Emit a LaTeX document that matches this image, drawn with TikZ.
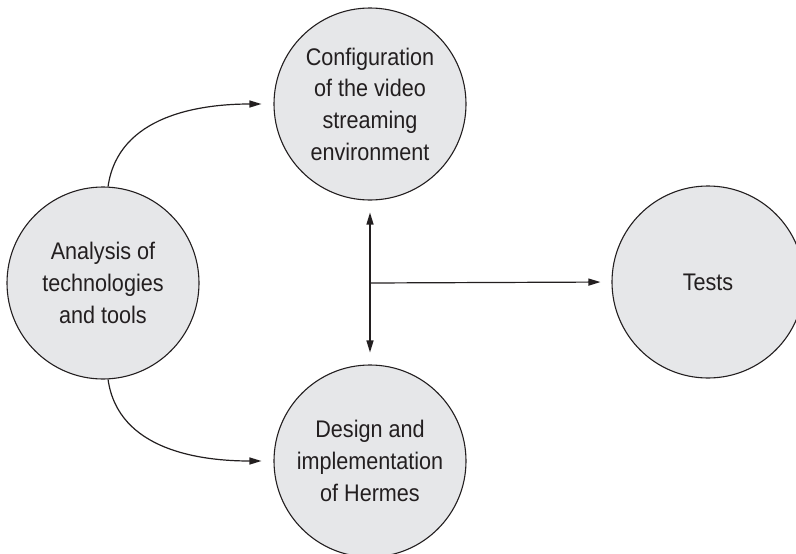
\documentclass[tikz,border=0pt]{standalone}
\usepackage{fontspec}
\setmainfont[FakeStretch=0.9]{Liberation Sans}
\usetikzlibrary{arrows.meta}
\definecolor{circfill}{RGB}{230,231,233}
\definecolor{inkc}{RGB}{35,31,32}
\tikzset{
  stage/.style={circle, draw=inkc, line width=1.1pt, fill=circfill, minimum size=192pt, inner sep=0pt, align=center, text=inkc, font=\fontsize{24}{31.7}\selectfont},
  flow/.style={draw=inkc, line width=1.2pt, -{Triangle[length=12pt,width=7pt]}},
  biflow/.style={draw=inkc, line width=1.2pt, {Triangle[length=12pt,width=7pt]}-{Triangle[length=12pt,width=7pt]}}
}
\begin{document}
\begin{tikzpicture}[x=1pt,y=-1pt]
\useasboundingbox (0,0) rectangle (796,554);
\node[stage] (A) at (103,283) {Analysis of\\technologies\\and tools};
\node[stage] (C) at (370,104) {Configuration\\of the video\\streaming\\environment};
\node[stage] (D) at (370,461) {Design and\\implementation\\of Hermes};
\node[stage] (T) at (708,282) {Tests};
\coordinate (J) at (370,283);
\draw[flow, shorten >=12pt] (A.87) to[out=82,in=180] (C.west);
\draw[flow, shorten >=12pt] (A.-87) to[out=-82,in=180] (D.west);
\draw[biflow, shorten <=12pt, shorten >=12pt] (C.south) -- (D.north);
\draw[flow, shorten >=11pt] (J) -- (T.west);
\end{tikzpicture}
\end{document}
